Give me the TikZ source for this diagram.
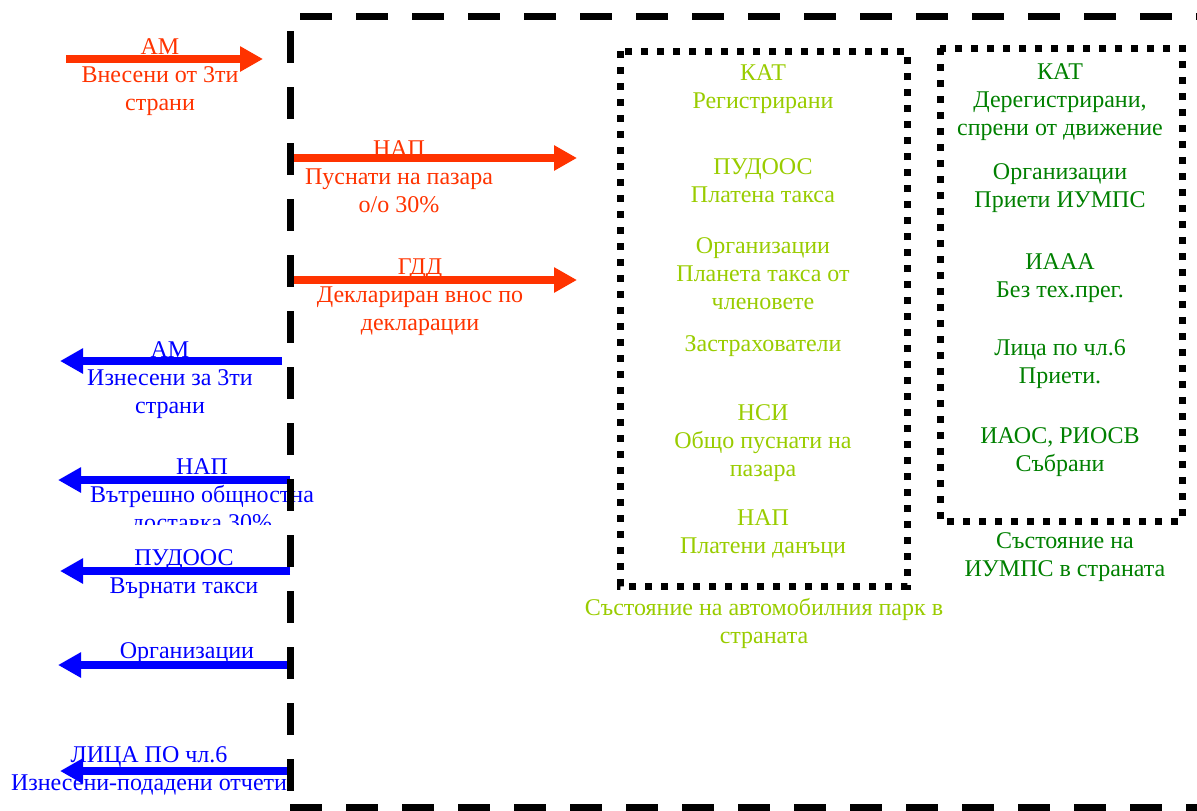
\documentclass[tikz,border=0pt]{standalone}
\usepackage{fontspec}
\setmainfont{Liberation Serif}
\usetikzlibrary{arrows.meta}
\definecolor{redc}{HTML}{FF3300}
\definecolor{bluec}{HTML}{0000FF}
\definecolor{lgreen}{HTML}{99CC00}
\definecolor{dgreen}{HTML}{008000}
\begin{document}
\begin{tikzpicture}[x=0.5pt,y=-0.5pt,
  lbl/.style={font=\fontsize{12}{14}\selectfont, align=center, inner sep=0pt, yshift=-1.5pt},
  rlbl/.style={lbl, text=redc},
  blbl/.style={lbl, text=bluec},
  glbl/.style={lbl, text=lgreen},
  dlbl/.style={lbl, text=dgreen},
  arr/.style={line width=3.75pt, -{Triangle[length=11.5pt,width=12pt]}},
  redarrow/.style={arr, draw=redc, fill=redc},
  bluearrow/.style={arr, draw=bluec, fill=bluec},
  bigdash/.style={line width=3.5pt, dash pattern=on 16pt off 12pt},
  dotbox/.style={line width=3.5pt, dash pattern=on 3.5pt off 4.5pt}]
\useasboundingbox (0,0) rectangle (1197,810);

% red arrows (incoming)
\coordinate (r1s) at (66,59);  \coordinate (r1e) at (263,59);
\coordinate (r2s) at (290,158); \coordinate (r2e) at (577,158);
\coordinate (r3s) at (290,280); \coordinate (r3e) at (577,280);
\draw[redarrow] (r1s) -- (r1e);
\draw[redarrow] (r2s) -- (r2e);
\draw[redarrow] (r3s) -- (r3e);
\node[rlbl] (rl1) at (160,74) {АМ\\Внесени от 3ти\\страни};
\node[rlbl] (rl2) at (399,174) {НАП\\Пуснати на пазара\\о/о 30\%};
\node[rlbl] (rl3) at (420,294) {ГДД\\Деклариран внос по\\декларации};

% blue arrows (outgoing)
\coordinate (b1s) at (282,361); \coordinate (b1e) at (60,361);
\coordinate (b2s) at (290,480); \coordinate (b2e) at (58,480);
\coordinate (b3s) at (290,571); \coordinate (b3e) at (60,571);
\coordinate (b4s) at (290,665); \coordinate (b4e) at (58,665);
\coordinate (b5s) at (290,771); \coordinate (b5e) at (60,771);
\draw[bluearrow] (b1s) -- (b1e);
\draw[bluearrow] (b2s) -- (b2e);
\draw[bluearrow] (b3s) -- (b3e);
\draw[bluearrow] (b4s) -- (b4e);
\draw[bluearrow] (b5s) -- (b5e);
\node[blbl] (bl1) at (170,377) {АМ\\Изнесени за 3ти\\страни};
\begin{scope}
\clip (0,0) rectangle (1197,524);
\node[blbl] (bl2) at (202,494) {НАП\\Вътрешно общностна\\доставка 30\%};
\end{scope}
\node[blbl] (bl3) at (184,571.5) {ПУДООС\\Върнати такси};
\node[blbl] (bl4) at (187,650) {Организации};
\node[blbl] (bl5) at (149,768) {ЛИЦА ПО чл.6\\Изнесени-подадени отчети};

% big dashed frame
\draw[bigdash] (290,31) -- (290,800);
\draw[bigdash] (300,16) -- (1197,16);
\draw[bigdash] (290,807) -- (1197,807);

% dotted boxes
\draw[dotbox] (620,51) rectangle (907,586);
\draw[dotbox] (940,48) rectangle (1182,521);

% box 1 contents
\node[glbl] (g1) at (763,86) {КАТ\\Регистрирани};
\node[glbl] (g2) at (763,178) {ПУДООС\\Платена такса};
\node[glbl] (g3) at (763,271) {Организации\\Планета такса от\\членовете};
\node[glbl] (g4) at (763,343) {Застрахователи};
\node[glbl] (g5) at (763,440) {НСИ\\Общо пуснати на\\пазара};
\node[glbl] (g6) at (763,531) {НАП\\Платени данъци};
\node[glbl] (gcap) at (764,620) {Състояние на автомобилния парк в\\страната};

% box 2 contents
\node[dlbl] (d1) at (1060,99) {КАТ\\Дерегистрирани,\\спрени от движение};
\node[dlbl] (d2) at (1060,185) {Организации\\Приети ИУМПС};
\node[dlbl] (d3) at (1060,275) {ИААА\\Без тех.прег.};
\node[dlbl] (d4) at (1060,361) {Лица по чл.6\\Приети.};
\node[dlbl] (d5) at (1060,449) {ИАОС, РИОСВ\\Събрани};
\node[dlbl] (dcap) at (1065,554) {Състояние на\\ИУМПС в страната};
\end{tikzpicture}
\end{document}
